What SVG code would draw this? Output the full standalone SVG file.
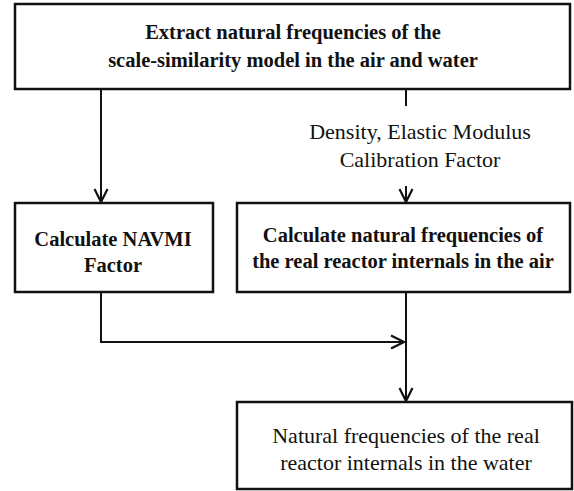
<svg xmlns="http://www.w3.org/2000/svg" width="574" height="491" viewBox="0 0 574 491">
<style>
.box{fill:#fff;stroke:#111;stroke-width:2.5}
.ln{fill:none;stroke:#111;stroke-width:2}
.tb{font-family:"Liberation Serif","Times New Roman",serif;font-weight:bold;font-size:20.5px;fill:#111;text-anchor:middle}
.tr{font-family:"Liberation Serif","Times New Roman",serif;font-size:22px;fill:#111;text-anchor:middle}
</style>
<defs>
<marker id="ah" viewBox="0 0 16 16" refX="14" refY="8" markerWidth="16" markerHeight="16" markerUnits="userSpaceOnUse" orient="auto">
<path d="M1,1.5 L14,8 L1,14.5" fill="none" stroke="#111" stroke-width="2.2"/>
</marker>
</defs>
<rect width="574" height="491" fill="#fff"/>
<g id="connectors">
<line class="ln" x1="101" y1="89" x2="101" y2="202" marker-end="url(#ah)"/>
<line class="ln" x1="406" y1="89" x2="406" y2="106"/>
<line class="ln" x1="406" y1="186" x2="406" y2="202" marker-end="url(#ah)"/>
<polyline class="ln" points="101,292 101,342 404,342" marker-end="url(#ah)"/>
<line class="ln" x1="406" y1="292" x2="406" y2="401" marker-end="url(#ah)"/>
<g id="label">
<text class="tr" x="420" y="139">Density, Elastic Modulus</text>
<text class="tr" x="420" y="167">Calibration Factor</text>
</g>
</g>
<g id="extract">
<rect class="box" x="15" y="4" width="555" height="85"/>
<text class="tb" x="293" y="39">Extract natural frequencies of the</text>
<text class="tb" x="293" y="67">scale-similarity model in the air and water</text>
</g>
<g id="navmi">
<rect class="box" x="15" y="203" width="198" height="89"/>
<text class="tb" x="113" y="246">Calculate NAVMI</text>
<text class="tb" x="113" y="272">Factor</text>
</g>
<g id="air">
<rect class="box" x="237" y="203" width="333" height="89"/>
<text class="tb" x="403" y="242">Calculate natural frequencies of</text>
<text class="tb" x="403" y="268">the real reactor internals in the air</text>
</g>
<g id="water">
<rect class="box" x="237" y="402" width="335" height="87"/>
<text class="tr" x="406" y="443">Natural frequencies of the real</text>
<text class="tr" x="406" y="470">reactor internals in the water</text>
</g>
</svg>
